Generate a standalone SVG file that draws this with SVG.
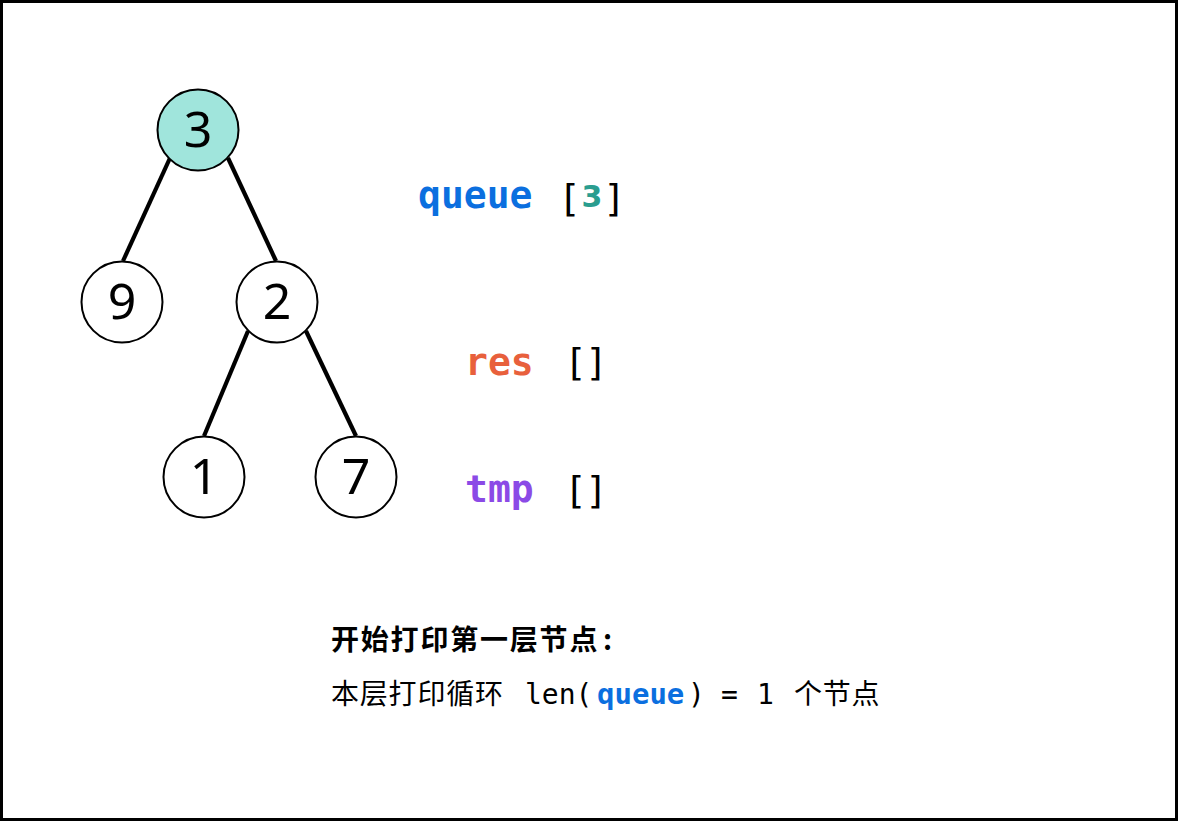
<svg xmlns="http://www.w3.org/2000/svg" width="1178" height="821" viewBox="0 0 1178 821">
<style>
.node circle{fill:#fff;stroke:#000;stroke-width:2}
.node text{font-family:"Noto Sans","DejaVu Sans",sans-serif;font-size:50px;fill:#000;text-anchor:middle}
.edge{stroke:#000;stroke-width:4.2;stroke-linecap:butt}
.mono{font-family:"DejaVu Sans Mono","Liberation Mono",monospace;font-size:38px}
.b{font-weight:bold}
.cn{font-family:"Noto Sans CJK SC",sans-serif;font-size:28px;letter-spacing:0.8px}
.m2{font-family:"DejaVu Sans Mono","Liberation Mono",monospace;font-size:28px}
.teal{font-family:"DejaVu Sans",sans-serif;font-size:30px;font-weight:bold;fill:#2a9d8f}
</style>
<rect x="1.5" y="1.5" width="1175" height="818" fill="#fff" stroke="#000" stroke-width="3"/>
<g id="connectors">
<line class="edge" x1="170" y1="158" x2="123" y2="261"/>
<line class="edge" x1="228" y1="158" x2="276" y2="261"/>
<line class="edge" x1="248" y1="331" x2="204" y2="436"/>
<line class="edge" x1="306" y1="331" x2="356" y2="436"/>
</g>
<g id="node-3" class="node"><circle cx="198" cy="130" r="40.5" style="fill:#a0e5dc"/><text x="198" y="147">3</text></g>
<g id="node-9" class="node"><circle cx="122" cy="302" r="40.5"/><text x="122" y="319">9</text></g>
<g id="node-2" class="node"><circle cx="277" cy="302" r="40.5"/><text x="277" y="319">2</text></g>
<g id="node-1" class="node"><circle cx="204" cy="477" r="40.5"/><text x="204" y="494">1</text></g>
<g id="node-7" class="node"><circle cx="356" cy="477" r="40.5"/><text x="356" y="494">7</text></g>
<g id="labels">
<text class="mono b" x="418" y="208" fill="#0b6fdf">queue</text>
<text class="mono" x="558" y="211">[</text>
<text class="teal" x="592" y="207" text-anchor="middle">3</text>
<text class="mono" x="603" y="211">]</text>
<text class="mono b" x="465" y="375" fill="#e8603c">res</text>
<text class="mono" x="564 585" y="375">[]</text>
<text class="mono b" x="465" y="502" fill="#8b4ae6">tmp</text>
<text class="mono" x="564 585" y="503">[]</text>
<text class="cn b" x="331" y="650" style="letter-spacing:1.8px">开始打印第一层节点</text>
<text class="cn b" x="603" y="650">:</text>
<text y="704"><tspan class="cn" x="331">本层打印循环</tspan><tspan class="m2" x="525">len(</tspan><tspan class="m2 b" x="597" style="font-size:29px" fill="#0b6fdf">queue</tspan><tspan class="m2" x="688">)</tspan><tspan class="m2" x="721">=</tspan><tspan class="m2" x="757">1</tspan><tspan class="cn" x="794">个节点</tspan></text>
</g>
</svg>
